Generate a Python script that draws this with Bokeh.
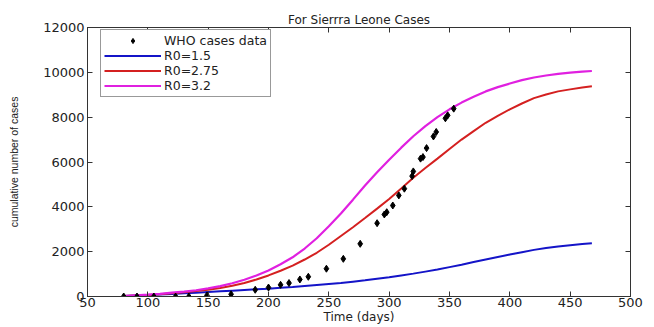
from bokeh.plotting import figure
from bokeh.models import (Range1d, LinearAxis, FixedTicker, Legend, LegendItem,
                          ColumnDataSource, CustomJSTickFormatter)
from bokeh.embed import file_html
from bokeh.resources import INLINE

# WHO reported cumulative cases (Sierra Leone)
who_days = [80, 91, 105, 123, 134, 149, 169, 189, 200, 210, 217, 226, 233, 248,
            262, 276, 290, 296, 298, 303, 308, 312.6, 319, 320, 326, 328, 331,
            336.7, 339, 346.6, 348.5, 353.5]
who_cases = [0, 0, 0, 0, 0, 50, 100, 300, 400, 520, 600, 760, 880, 1240,
             1680, 2350, 3270, 3660, 3760, 4060, 4510, 4810, 5370, 5580, 6150,
             6220, 6620, 7140, 7340, 7950, 8080, 8380]

# model curves
model_days = [80, 90, 100, 110, 120, 130, 140, 150, 160, 170, 180, 190, 200,
              210, 220, 230, 240, 250, 260, 270, 280, 290, 300, 310, 320, 330,
              340, 350, 360, 370, 380, 390, 400, 410, 420, 430, 440, 450, 460,
              468]
r0_15 = [20, 40, 60, 85, 110, 140, 170, 200, 230, 260, 290, 320, 350,
         385, 420, 465, 510, 555, 600, 660, 720, 790, 860, 940, 1020, 1110,
         1200, 1310, 1420, 1535, 1650, 1760, 1870, 1975, 2080, 2160, 2230,
         2290, 2340, 2380]
r0_275 = [20, 45, 70, 100, 140, 185, 240, 305, 380, 480, 600, 760, 940,
          1150, 1380, 1650, 1950, 2310, 2700, 3090, 3500, 3920, 4350, 4820,
          5300, 5730, 6150, 6580, 7000, 7380, 7750, 8060, 8350, 8610, 8850,
          9010, 9150, 9240, 9320, 9375]
r0_32 = [20, 50, 80, 120, 170, 220, 280, 360, 460, 590, 750, 940, 1160,
         1440, 1750, 2140, 2600, 3130, 3700, 4320, 4950, 5540, 6100, 6640,
         7150, 7600, 8000, 8350, 8650, 8910, 9150, 9340, 9500, 9650, 9770,
         9860, 9930, 9985, 10030, 10060]

x_ticks = [50, 100, 150, 200, 250, 300, 350, 400, 450, 500]
y_ticks = [0, 2000, 4000, 6000, 8000, 10000, 12000]

FONT = "DejaVu Sans"
AX = "#333333"

p = figure(width=654, height=327, output_backend="svg", toolbar_location=None,
           x_range=Range1d(50, 500), y_range=Range1d(0, 12000),
           min_border_left=87, min_border_right=24, min_border_top=27,
           min_border_bottom=31, title="For Sierrra Leone Cases")
p.background_fill_color = "white"
p.border_fill_color = "white"
p.grid.visible = False
p.outline_line_color = AX
p.outline_line_width = 1

p.title.align = "center"
p.title.text_font = FONT
p.title.text_font_size = "12px"
p.title.text_font_style = "normal"
p.title.text_color = "#222222"
p.title.offset = -3
p.title.standoff = 2

for ax in p.xaxis:
    ax.ticker = FixedTicker(ticks=x_ticks)
    ax.axis_label = "Time (days)"
for ax in p.yaxis:
    ax.ticker = FixedTicker(ticks=y_ticks)
    ax.axis_label = "cumulative number of cases"

for ax in list(p.xaxis) + list(p.yaxis):
    ax.major_tick_in = 5
    ax.major_tick_out = 0
    ax.minor_tick_in = 0
    ax.minor_tick_out = 0
    ax.axis_line_color = AX
    ax.major_tick_line_color = AX
    ax.major_label_text_font = FONT
    ax.major_label_text_font_size = "13px"
    ax.major_label_text_color = "#222222"
    ax.major_label_standoff = 3
    ax.axis_label_text_font_style = "normal"
    ax.axis_label_text_font_size = "12px"
    ax.axis_label_text_color = "#222222"
for ax in p.xaxis:
    ax.axis_label_text_font = FONT
    ax.axis_label_standoff = 0
    ax.major_label_standoff = 1
for ax in p.yaxis:
    ax.axis_label_text_font = "Liberation Sans"
    ax.axis_label_text_font_size = "10.5px"
    ax.axis_label_standoff = 20

blank = CustomJSTickFormatter(code="return '';")
# box ticks on top and right
top = LinearAxis(ticker=FixedTicker(ticks=x_ticks), formatter=blank,
                 major_tick_in=5, major_tick_out=0, minor_tick_in=0, minor_tick_out=0,
                 axis_line_color=AX, major_tick_line_color=AX, major_label_standoff=0)
right = LinearAxis(ticker=FixedTicker(ticks=y_ticks), formatter=blank,
                   major_tick_in=5, major_tick_out=0, minor_tick_in=0, minor_tick_out=0,
                   axis_line_color=AX, major_tick_line_color=AX, major_label_standoff=0)
p.add_layout(top, "above")
p.add_layout(right, "right")

model_src = ColumnDataSource(dict(day=model_days, a=r0_15, b=r0_275, c=r0_32))
who_src = ColumnDataSource(dict(day=who_days, cases=who_cases))

l1 = p.line("day", "a", source=model_src, line_color="#1414c8", line_width=2)
l2 = p.line("day", "b", source=model_src, line_color="#d42020", line_width=2)
l3 = p.line("day", "c", source=model_src, line_color="#e020e0", line_width=2.2)
pts = p.scatter("day", "cases", source=who_src, marker="diamond", size=7,
                fill_color="black", line_color="black")

legend = Legend(items=[LegendItem(label="WHO cases data", renderers=[pts]),
                       LegendItem(label="R0=1.5", renderers=[l1]),
                       LegendItem(label="R0=2.75", renderers=[l2]),
                       LegendItem(label="R0=3.2", renderers=[l3])],
                location=(13, 199), margin=0, padding=3, spacing=-1,
                glyph_width=57, glyph_height=13, label_height=13,
                label_standoff=3, label_text_font=FONT,
                label_text_font_size="12.5px", label_text_color="#222222",
                border_line_color=AX, border_line_width=1,
                background_fill_color="white", background_fill_alpha=1)
p.add_layout(legend, "center")

open("out.html", "w").write(file_html(p, INLINE))
